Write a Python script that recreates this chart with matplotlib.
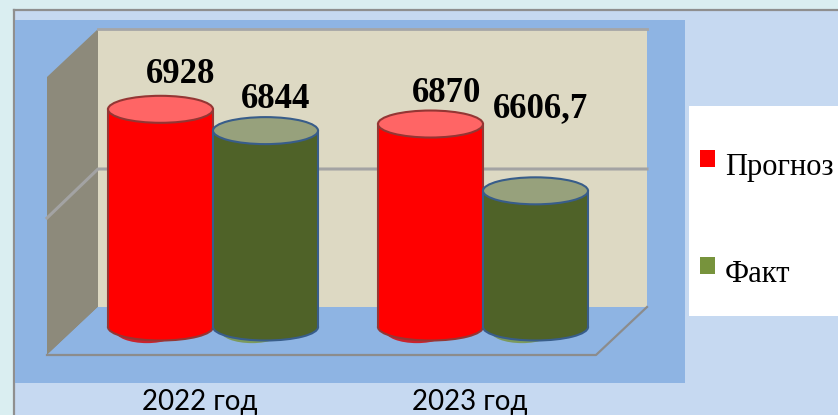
import matplotlib
matplotlib.use("Agg")
import matplotlib.pyplot as plt
from matplotlib.patches import Rectangle, Ellipse, Polygon

# data
YEARS = ["2022 год", "2023 год"]
SERIES = ["Прогноз", "Факт"]
PLAN = [6928, 6870]
FACT = [6844, 6606.7]
VALUES = [PLAN, FACT]

# value axis range (no visible axis in the original)
YMIN, YMAX = 6070, 7280

# colours
BODY = ["#FF0000", "#4F6228"]
TOP = ["#FF6565", "#97A17C"]
EDGE = ["#943634", "#385D8A"]
SHADOW = ["#D80000", "#77933C"]
LEGEND_COLORS = ["#FF0000", "#77933C"]

# label nudges in pixels [series][year]
LABEL_SHIFT = [[(20, 26), (16, 22)], [(10, 23), (5, 74)]]

W, H = 838, 415
BAR_W = 0.389
AX_LEFT, AX_RIGHT, AX_TOP, AX_BOTTOM = 78, 618, 20, 327


def fmt(v):
    return f"{v:g}".replace(".", ",")


def draw_background(bg):
    grey = "#8F8F8F"
    bg.add_patch(Rectangle((14, 10), W, H, fc="#C6D9F1", ec="none", zorder=0))
    bg.plot([14, W], [10, 10], color=grey, lw=1.6, zorder=1)
    bg.plot([14, 14], [10, H], color=grey, lw=1.6, zorder=1)

    # plot area
    bg.add_patch(Rectangle((15, 20), 670, 363, fc="#8EB4E3", ec="none", zorder=1))

    # back wall, side wall, floor
    bg.add_patch(Polygon([(98, 29), (647, 29), (647, 307), (98, 307)],
                         fc="#DDD9C3", ec="none", zorder=2))
    bg.plot([98, 647], [29, 29], color="#A6A6A6", lw=2, zorder=2.1)
    bg.add_patch(Polygon([(47, 77), (98, 29), (98, 307), (47, 355)],
                         fc="#8D8A7B", ec="none", zorder=2))
    bg.add_patch(Polygon([(47, 355), (98, 307), (647, 307), (596, 355)],
                         fc="#8EB4E3", ec="none", zorder=2))
    bg.plot([47, 596, 647], [355, 355, 307], color="#8C8C8C", lw=1.6, zorder=2.1)

    # gridline
    bg.plot([47, 98, 647], [218, 169, 169], color="#A3A3A3", lw=2.2, zorder=2.1)

    # legend box
    bg.add_patch(Rectangle((689, 106), 160, 210, fc="white", ec="none", zorder=2))
    for k, (name, y_base) in enumerate(zip(SERIES, [175, 282])):
        bg.add_patch(Rectangle((700, y_base - 25), 15, 17, fc=LEGEND_COLORS[k],
                               ec="none", zorder=3))
        bg.text(725, y_base, name, fontsize=22, family="Liberation Serif",
                va="baseline", ha="left", zorder=3)


def draw_cylinder(ax, xc, v, s, z, eh, px):
    x0 = xc - BAR_W / 2
    ax.add_patch(Ellipse((xc - 0.05, YMIN - 4 / px), BAR_W * 0.6, eh * 0.9,
                         fc=SHADOW[s], ec="none", alpha=0.8, zorder=2, clip_on=False))
    ax.add_patch(Ellipse((xc, YMIN), BAR_W, eh, fc=BODY[s], ec=EDGE[s], lw=1.5,
                         zorder=z, clip_on=False))
    ax.add_patch(Rectangle((x0, YMIN), BAR_W, v - YMIN, fc=BODY[s], ec="none",
                           zorder=z + 0.01, clip_on=False))
    ax.plot([x0, x0], [YMIN, v], color=EDGE[s], lw=1.5, zorder=z + 0.02, clip_on=False)
    ax.plot([x0 + BAR_W] * 2, [YMIN, v], color=EDGE[s], lw=1.5, zorder=z + 0.02,
            clip_on=False)
    ax.add_patch(Ellipse((xc, v), BAR_W, eh, fc=TOP[s], ec=EDGE[s], lw=1.5,
                         zorder=z + 0.03, clip_on=False))


def main():
    fig = plt.figure(figsize=(W / 100, H / 100), dpi=100)
    fig.patch.set_facecolor("#DAEEF1")

    bg = fig.add_axes([0, 0, 1, 1])
    bg.set_xlim(0, W)
    bg.set_ylim(H, 0)
    bg.axis("off")
    draw_background(bg)

    ax = fig.add_axes([AX_LEFT / W, (H - AX_BOTTOM) / H,
                       (AX_RIGHT - AX_LEFT) / W, (AX_BOTTOM - AX_TOP) / H])
    ax.set_xlim(-0.5, len(YEARS) - 0.5)
    ax.set_ylim(YMIN, YMAX)
    ax.axis("off")

    px = (AX_BOTTOM - AX_TOP) / (YMAX - YMIN)  # pixels per value unit
    eh = 27 / px

    z = 3
    for i in range(len(YEARS)):
        for s in range(len(SERIES)):
            xc = i + (s - 0.5) * BAR_W
            v = VALUES[s][i]
            draw_cylinder(ax, xc, v, s, z, eh, px)
            z += 0.1
            dx, dy = LABEL_SHIFT[s][i]
            ax.annotate(fmt(v), xy=(xc, v), xytext=(dx, dy), textcoords="offset pixels",
                        ha="center", va="baseline", fontsize=25, fontweight="bold",
                        family="Liberation Serif", zorder=10, annotation_clip=False)
        ax.annotate(YEARS[i], xy=(i, YMIN), xytext=(-13, -83), textcoords="offset pixels",
                    ha="center", va="baseline", fontsize=20, family="Lato",
                    zorder=10, annotation_clip=False)

    fig.savefig("out.png", dpi=100)


if __name__ == "__main__":
    main()
